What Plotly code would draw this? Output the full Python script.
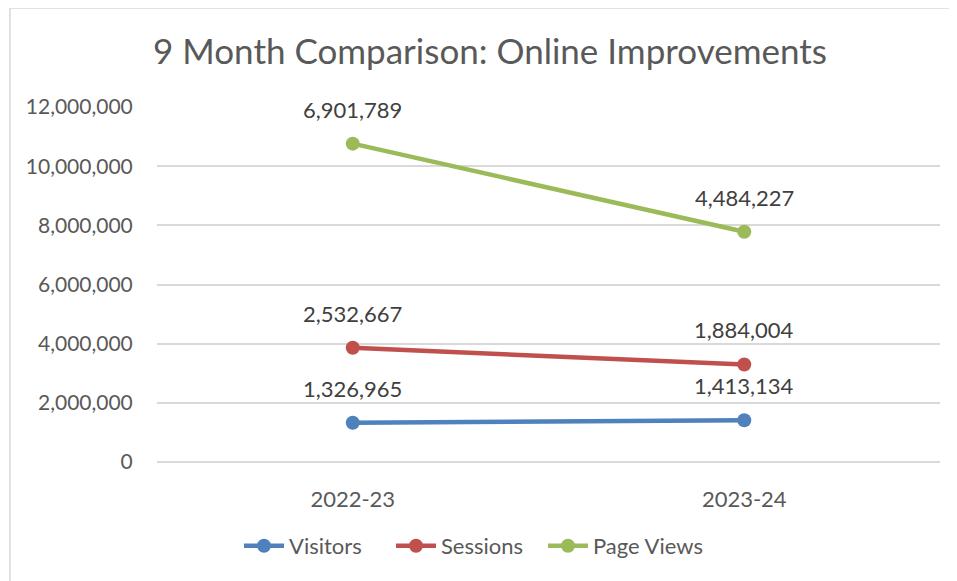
import plotly.graph_objects as go

categories = ["2022-23", "2023-24"]
visitors = [1326965, 1413134]
sessions = [2532667, 1884004]
page_views = [6901789, 4484227]

series_names = ["Visitors", "Sessions", "Page Views"]
series_values = [visitors, sessions, page_views]
series_colors = ["#4f81bd", "#c0504d", "#9bbb59"]

y_ticks = [0, 2000000, 4000000, 6000000, 8000000, 10000000, 12000000]

FONT = "Lato, 'Noto Sans', sans-serif"
GRAY = "#595959"
W, H = 957, 581
OFF = 8  # page body margin

fig = go.Figure()
cum = [0] * len(categories)
annotations = []
for name, vals, col in zip(series_names, series_values, series_colors):
    cum = [c + v for c, v in zip(cum, vals)]
    fig.add_trace(go.Scatter(
        x=categories, y=vals, name=name, stackgroup="one", fill="none",
        mode="lines+markers",
        line=dict(color=col, width=4.5),
        marker=dict(color=col, size=14),
    ))
    for cat, c, v in zip(categories, cum, vals):
        annotations.append(dict(
            x=cat, y=c, text=f"{v:,}", showarrow=False, xref="x", yref="y",
            yanchor="bottom", yshift=19,
            font=dict(family=FONT, size=22, color="#404040"),
        ))

# empty spacer entry so the last legend label is not clipped
fig.add_trace(go.Scatter(x=[None], y=[None], name=" ", mode="lines",
                         line=dict(width=0, color="rgba(0,0,0,0)"),
                         showlegend=True, hoverinfo="skip"))

# outer chart border (left and top edges visible)
bx = (10 - 157) / 783
by = (462 - 8) / 355
shapes = [
    dict(type="line", xref="paper", yref="paper", x0=bx, x1=1.1, y0=by, y1=by,
         line=dict(color="#d9d9d9", width=1.5)),
    dict(type="line", xref="paper", yref="paper", x0=bx, x1=bx, y0=by, y1=-0.4,
         line=dict(color="#d9d9d9", width=1.5)),
]

fig.update_layout(
    width=W, height=H,
    margin=dict(l=157 - OFF, r=W - (940 - OFF), t=107 - OFF, b=H - (462 - OFF)),
    paper_bgcolor="white", plot_bgcolor="white",
    title=dict(text="9 Month Comparison: Online Improvements",
               x=(490 - OFF) / W, xanchor="center",
               y=1 - (52 - OFF) / H, yanchor="middle",
               font=dict(family=FONT, size=35, color=GRAY)),
    font=dict(family=FONT, size=22, color=GRAY),
    xaxis=dict(range=[-0.5, 1.5], showgrid=False, zeroline=False,
               showline=False, ticks="outside", ticklen=18,
               tickcolor="rgba(0,0,0,0)",
               tickfont=dict(family=FONT, size=22, color=GRAY)),
    yaxis=dict(range=[0, 12000000], tickvals=y_ticks,
               ticktext=[f"{t:,}" for t in y_ticks],
               showgrid=True, gridcolor="#d9d9d9", gridwidth=1.5,
               zeroline=True, zerolinecolor="#d9d9d9", zerolinewidth=1.5,
               ticks="outside", ticklen=19, tickcolor="rgba(0,0,0,0)",
               tickfont=dict(family=FONT, size=21, color=GRAY)),
    legend=dict(orientation="h", x=(239 - OFF) / W, xanchor="left",
                xref="container", yref="container",
                y=1 - (546 - OFF) / H, yanchor="middle",
                font=dict(family=FONT, size=22, color=GRAY),
                itemwidth=40, tracegroupgap=0,
                entrywidth=97, entrywidthmode="pixels"),
    showlegend=True,
    annotations=annotations,
    shapes=shapes,
    hovermode=False,
)

fig.write_html("out.html")
